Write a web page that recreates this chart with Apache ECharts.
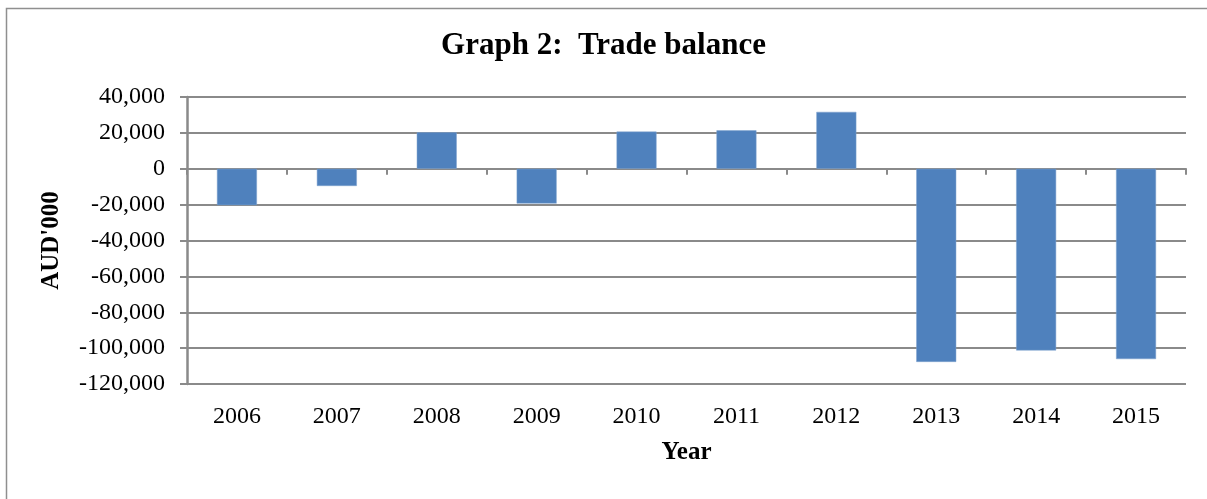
<!DOCTYPE html>
<html>
<head>
<meta charset="utf-8">
<title>Graph 2: Trade balance</title>
<script src="https://cdn.jsdelivr.net/npm/echarts@6/dist/echarts.min.js"></script>
<style>
html, body { margin: 0; padding: 0; background: #fff; }
#main { width: 1207px; height: 499px; }
</style>
</head>
<body>
<div id="main"></div>
<script>
// data (AUD'000)
var years = ['2006', '2007', '2008', '2009', '2010', '2011', '2012', '2013', '2014', '2015'];
var balance = [-20300, -9600, 20300, -19400, 20700, 21400, 31700, -107700, -101300, -106100];
var yTicks = [40000, 20000, 0, -20000, -40000, -60000, -80000, -100000, -120000];

var font = '"Liberation Serif", "Times New Roman", serif';
var grey = '#8a8a8a';

var fmt = function (v) {
	return v.toLocaleString('en-US');
};

var myChart = echarts.init(document.getElementById('main'));

var option = {
	animation: false,
	backgroundColor: '#fff',
	graphic: [{
		type: 'rect',
		left: 4, top: 6,
		shape: { width: 1400, height: 700 },
		style: { fill: 'none', stroke: '#8f8f8f', lineWidth: 1.5 },
		silent: true
	}],
	title: {
		text: 'Graph 2:  Trade balance',
		left: 'center',
		top: 25,
		textStyle: { fontFamily: font, fontSize: 31, fontWeight: 'bold', color: '#000' }
	},
	grid: { left: 187, right: 21, top: 97, bottom: 115 },
	xAxis: [{
		// labels along the bottom
		type: 'category',
		data: years,
		position: 'bottom',
		axisLine: { show: false, onZero: false },
		axisTick: { show: false },
		axisLabel: { fontFamily: font, fontSize: 24, color: '#000', margin: 21 },
		name: 'Year',
		nameLocation: 'middle',
		nameGap: 56,
		nameTextStyle: { fontFamily: font, fontSize: 25, fontWeight: 'bold', color: '#000' }
	}, {
		// axis line with ticks sitting on zero
		type: 'category',
		data: years,
		position: 'bottom',
		axisLine: { show: true, onZero: true, lineStyle: { color: grey, width: 2 } },
		axisTick: { show: true, length: 6, lineStyle: { color: grey, width: 2 } },
		axisLabel: { show: false }
	}],
	yAxis: {
		type: 'value',
		min: yTicks[yTicks.length - 1],
		max: yTicks[0],
		interval: 20000,
		axisLine: { show: true, lineStyle: { color: grey, width: 2.5 } },
		axisTick: { show: true, length: 7, lineStyle: { color: grey, width: 2 } },
		splitLine: { show: true, lineStyle: { color: grey, width: 2 } },
		axisLabel: { fontFamily: font, fontSize: 24, color: '#000', margin: 22, formatter: fmt },
		name: "AUD'000",
		nameLocation: 'middle',
		nameRotate: 90,
		nameGap: 123,
		nameTextStyle: { fontFamily: font, fontSize: 25, fontWeight: 'bold', color: '#000' }
	},
	series: [{
		name: 'Trade balance',
		type: 'bar',
		xAxisIndex: 0,
		data: balance,
		barWidth: '40%',
		itemStyle: { color: '#4f81bd', borderColor: '#7fa2cf', borderWidth: 0.5 }
	}]
};

myChart.setOption(option);
</script>
</body>
</html>
